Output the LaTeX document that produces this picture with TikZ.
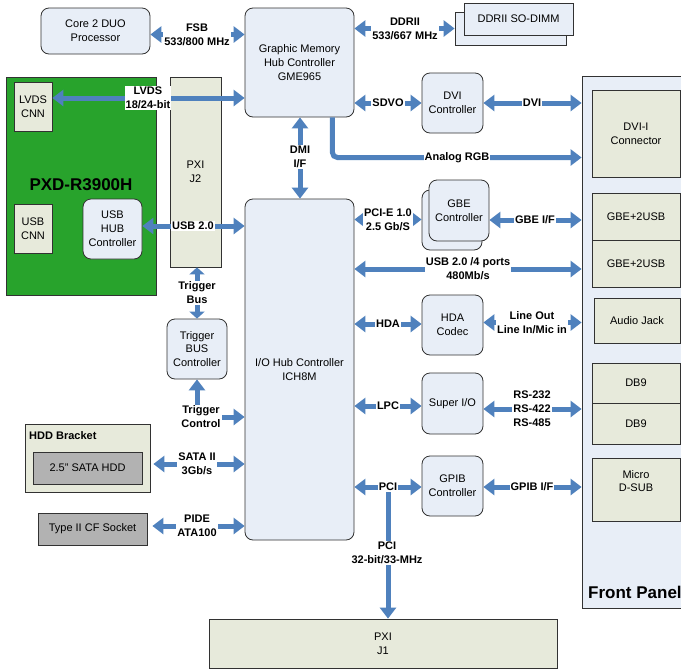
\documentclass[tikz,border=0pt]{standalone}
\usepackage{fontspec}
\setmainfont{Liberation Sans}
\usetikzlibrary{arrows.meta,calc}
\definecolor{arrblue}{RGB}{79,129,189}
\definecolor{boxblue}{RGB}{232,238,247}
\definecolor{beige}{RGB}{231,234,219}
\definecolor{pgreen}{RGB}{40,163,44}
\definecolor{hddgray}{RGB}{178,178,178}
\definecolor{edgecol}{RGB}{50,50,50}
\pgfdeclarelayer{back}
\pgfdeclarelayer{top}
\pgfsetlayers{back,main,top}
\tikzset{
 base/.style={draw=edgecol, line width=0.8pt, inner sep=0pt, align=center, font=\fontsize{11}{13.8}\selectfont},
 rbox/.style={base, fill=boxblue, rounded corners=8pt},
 sbox/.style={base, fill=boxblue},
 bbox/.style={base, fill=beige},
 gbox/.style={base, fill=hddgray},
 lbl/.style={fill=white, inner sep=1pt, align=center, font=\bfseries\fontsize{11}{14}\selectfont},
 link/.style={draw=arrblue, line width=5pt, {Triangle[width=16pt,length=11pt]}-{Triangle[width=16pt,length=11pt]}},
 linkto/.style={draw=arrblue, line width=5pt, -{Triangle[width=16pt,length=11pt]}},
 shortto/.style={draw=arrblue, line width=5pt, -{Triangle[width=15pt,length=7pt]}},
}
\newcommand\blk[7]{\node[#6, minimum width={(#4-#2)*1pt}, minimum height={(#5-#3)*1pt}] (#1) at ({(#2+#4)/2},{(#3+#5)/2}) {#7};}
\begin{document}
\begin{tikzpicture}[x=1pt,y=-1pt]
\begin{pgfonlayer}{back}
\fill[white] (0,0) rectangle (681,670);
\end{pgfonlayer}
\clip (0,0) rectangle (681,670);
\useasboundingbox (0,0) rectangle (681,670);
% boxes
\blk{cpu}{41}{8}{150}{54}{rbox}{Core 2 DUO\\Processor}
\blk{gmch}{245}{8}{354}{117}{rbox}{Graphic Memory\\Hub Controller\\GME965}
\blk{ddrb}{455}{12}{566}{45}{sbox}{}
\blk{ddrf}{464}{3}{573}{35}{sbox}{DDRII SO-DIMM}
\blk{pxd}{6}{77}{156}{295}{base,fill=pgreen}{}
\node[font=\bfseries\fontsize{17}{20}\selectfont] (pxdt) at (81,185) {PXD-R3900H};
\blk{lvdscnn}{14}{82}{52}{131}{bbox}{LVDS\\CNN}
\blk{usbcnn}{14}{204}{52}{253}{bbox}{USB\\CNN}
\blk{usbhub}{83}{199}{142}{259}{rbox}{USB\\HUB\\Controller}
\blk{j2}{170}{77}{221}{267}{bbox}{PXI\\J2}
\blk{trig}{167}{319}{227}{379}{rbox}{Trigger\\BUS\\Controller}
\blk{ich}{245}{199}{354}{540}{rbox}{I/O Hub Controller\\ICH8M}
\blk{dvic}{422}{73}{483}{133}{rbox}{DVI\\Controller}
\blk{gbeb}{422}{190}{482}{250}{rbox}{}
\blk{gbef}{429}{180}{489}{241}{rbox}{GBE\\Controller}
\blk{hda}{422}{295}{483}{355}{rbox}{HDA\\Codec}
\blk{sio}{422}{373}{483}{434}{rbox}{Super I/O}
\blk{gpib}{422}{456}{483}{516}{rbox}{GPIB\\Controller}
\blk{front}{582}{76}{700}{608}{sbox}{}
\node[anchor=base west, font=\bfseries\fontsize{17}{20}\selectfont, inner sep=0pt] (frontt) at (588,598) {Front Panel};
\blk{dvii}{592}{90}{680}{177}{bbox}{DVI-I\\Connector}
\blk{gbe1}{592}{193}{680}{240}{bbox}{GBE+2USB}
\blk{gbe2}{592}{240}{680}{287}{bbox}{GBE+2USB}
\blk{audio}{594}{298}{680}{343}{bbox}{Audio Jack}
\blk{db1}{592}{363}{680}{403}{bbox}{DB9}
\blk{db2}{592}{403}{680}{444}{bbox}{DB9}
\blk{dsub}{592}{458}{680}{521}{bbox}{}
\node[base, draw=none, fill=none] (dsubt) at (636,481) {Micro\\D-SUB};
\blk{j1}{209}{619}{557}{668}{bbox}{PXI\\J1}
\blk{hddb}{25}{424}{150}{492}{bbox}{}
\node[lbl, fill=none, anchor=base west, inner sep=0pt] (hddbt) at (29,439) {HDD Bracket};
\blk{hdd}{33}{452}{142}{484}{gbox}{2.5" SATA HDD}
\blk{cf}{38}{513}{147}{545}{gbox}{Type II CF Socket}
% labels (on top layer)
\begin{pgfonlayer}{top}
\node[lbl] (fsbl) at (197,34.5) {FSB\\533/800 MHz};
\node[lbl] (ddrl) at (405,28.5) {DDRII\\533/667 MHz};
\node[lbl] (lvdsl) at (148,98) {LVDS\\18/24-bit};
\node[lbl] (usbl) at (193,226) {USB 2.0};
\node[lbl] (trigbl) at (197,293) {Trigger\\Bus};
\node[lbl] (trigcl) at (201,417) {Trigger\\Control};
\node[lbl] (dmil) at (300,157) {DMI\\I/F};
\node[lbl] (rgbl) at (457,157.5) {Analog RGB};
\node[lbl] (sdvol) at (388,103) {SDVO};
\node[lbl] (dvil) at (532,103) {DVI};
\node[lbl] (pciel) at (388,219.5) {PCI-E 1.0\\2.5 Gb/S};
\node[lbl] (gbeifl) at (535,220) {GBE I/F};
\node[lbl] (usb4l) at (468,269) {USB 2.0 /4 ports\\480Mb/s};
\node[lbl] (hdal) at (388,324) {HDA};
\node[lbl] (linel) at (532,322.5) {Line Out\\Line In/Mic in};
\node[lbl] (lpcl) at (388,406) {LPC};
\node[lbl] (rsl) at (532,409) {RS-232\\RS-422\\RS-485};
\node[lbl] (pcil) at (388,487) {PCI};
\node[lbl] (gpibl) at (532,487) {GPIB I/F};
\node[lbl] (pci2l) at (387,553) {PCI\\32-bit/33-MHz};
\node[lbl] (satal) at (197,464) {SATA II\\3Gb/s};
\node[lbl] (pidel) at (197,526) {PIDE\\ATA100};
\end{pgfonlayer}
% connectors (above boxes, below labels)
\draw[link] (cpu.east |- fsbl) -- (gmch.west |- fsbl);
\draw[link] (gmch.east |- ddrl) -- (ddrb.west |- ddrl);
\draw[link] (gmch.west |- lvdsl) -- (lvdscnn.east |- lvdsl);
\draw[link] (usbhub.east |- usbl) -- (ich.west |- usbl);
\draw[shortto] (trigbl.north) -- (j2.south -| trigbl);
\draw[shortto] (trigbl.south) -- (trig.north -| trigbl);
\draw[linkto] (trig.south |- trigcl.north) -- (trig.south);
\draw[linkto] (trigcl.east) -- (ich.west |- trigcl.east);
\draw[link] (gmch.south -| dmil) -- (ich.north -| dmil);
\draw[linkto, rounded corners=5pt] ([xshift=-22pt]gmch.south east) |- (front.west |- rgbl);
\draw[link] (gmch.east |- sdvol) -- (dvic.west |- sdvol);
\draw[link] (dvic.east |- dvil) -- (front.west |- dvil);
\draw[link] (ich.east |- pciel) -- (gbeb.west |- pciel);
\draw[link] (gbef.east |- gbeifl) -- (front.west |- gbeifl);
\draw[link] (ich.east |- usb4l) -- (front.west |- usb4l);
\draw[link] (ich.east |- hdal) -- (hda.west |- hdal);
\draw[link] (hda.east |- linel) -- (front.west |- linel);
\draw[link] (ich.east |- lpcl) -- (sio.west |- lpcl);
\draw[link] (sio.east |- rsl) -- (front.west |- rsl);
\draw[link] (ich.east |- pcil) -- (gpib.west |- pcil);
\draw[link] (gpib.east |- gpibl) -- (front.west |- gpibl);
\draw[linkto] (pcil.south) -- (j1.north -| pcil);
\draw[link, shorten <=3pt] (hddb.east |- satal) -- (ich.west |- satal);
\draw[link, shorten <=5pt] (cf.east |- pidel) -- (ich.west |- pidel);
\end{tikzpicture}
\end{document}
